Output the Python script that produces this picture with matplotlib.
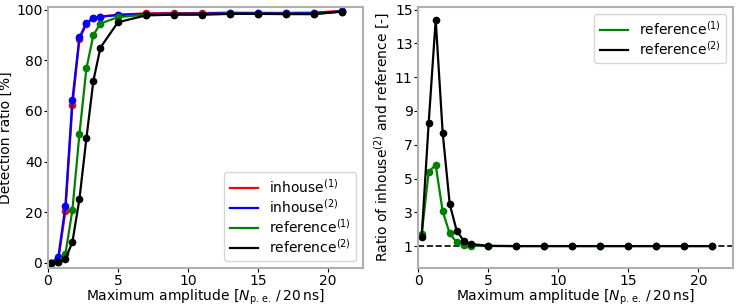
import matplotlib.pyplot as plt

# Amplitude bins [N_pe / 20 ns]
amplitude = [0.25, 0.75, 1.25, 1.75, 2.25, 2.75, 3.25, 3.75, 5, 7, 9, 11, 13, 15, 17, 19, 21]

# Detection ratio [%]
inhouse1 = [0.0, 1.5, 20.5, 62.2, 88.2, 94.5, 96.5, 97.2, 98.0, 98.5, 98.6, 98.6, 98.8, 98.7, 98.7, 98.8, 99.5]
inhouse2 = [0.0, 2.5, 22.5, 64.5, 89.0, 94.7, 96.7, 97.2, 97.8, 98.3, 98.4, 98.4, 98.6, 98.5, 98.5, 98.6, 99.3]
reference1 = [0.0, 0.5, 3.5, 21.0, 50.8, 76.8, 90.0, 94.5, 97.0, 98.0, 98.1, 98.1, 98.4, 98.3, 98.3, 98.3, 99.2]
reference2 = [0.0, 0.3, 1.5, 8.3, 25.2, 49.3, 72.0, 85.0, 95.0, 97.7, 98.0, 98.0, 98.3, 98.3, 98.2, 98.2, 99.2]

# Ratio inhouse(2) / reference [-]
ratio1 = [1.7, 5.4, 5.8, 3.05, 1.75, 1.22, 1.06, 1.02, 1.0, 1.0, 1.0, 1.0, 1.0, 1.0, 1.0, 1.0, 1.0]
ratio2 = [1.55, 8.3, 14.4, 7.7, 3.5, 1.9, 1.32, 1.12, 1.02, 1.0, 1.0, 1.0, 1.0, 1.0, 1.0, 1.0, 1.0]

xlabel = r"Maximum amplitude [$N_\mathrm{p.\,e.}\,/\,20\,\mathrm{ns}$]"
fontSize = 10
spineColor = "#b0b0b0"

fig, (ax1, ax2) = plt.subplots(1, 2, figsize=(7.37, 3.06), dpi=100)
fig.subplots_adjust(left=0.065, right=0.995, top=0.977, bottom=0.124, wspace=0.175)

series = [(inhouse1, "red", r"inhouse$^{(1)}$"),
          (inhouse2, "blue", r"inhouse$^{(2)}$"),
          (reference1, "green", r"reference$^{(1)}$"),
          (reference2, "black", r"reference$^{(2)}$")]
for values, color, label in series:
    ax1.plot(amplitude, values, color=color, lw=1.6, label=label)
    ax1.plot(amplitude, values, color=color, ls="none", marker="o", ms=4.5)

ax1.set_xlim(0, 22.5)
ax1.set_ylim(-2, 101)
ax1.set_yticks([0, 20, 40, 60, 80, 100])
ax1.set_ylabel("Detection ratio [%]", fontsize=fontSize, labelpad=2)
ax1.set_xlabel(xlabel, fontsize=fontSize, labelpad=0)
ax1.legend(loc="lower right", fontsize=fontSize, handlelength=2.0,
           labelspacing=0.15)

ax2.axhline(1, color="black", ls="--", lw=1.2, zorder=1)
ax2.plot(amplitude, ratio1, color="green", lw=1.6, label=r"reference$^{(1)}$")
ax2.plot(amplitude, ratio1, color="green", ls="none", marker="o", ms=4.5)
ax2.plot(amplitude, ratio2, color="black", lw=1.6, label=r"reference$^{(2)}$")
ax2.plot(amplitude, ratio2, color="black", ls="none", marker="o", ms=4.5)

ax2.set_xlim(0, 22.5)
ax2.set_ylim(-0.3, 15.15)
ax2.set_yticks([1, 3, 5, 7, 9, 11, 13, 15])
ax2.set_ylabel(r"Ratio of inhouse$^{(2)}$ and reference [-]", fontsize=fontSize, labelpad=2)
ax2.set_xlabel(xlabel, fontsize=fontSize, labelpad=0)
ax2.legend(loc="upper right", fontsize=fontSize, handlelength=2.0,
           labelspacing=0.15)

for ax in (ax1, ax2):
    ax.tick_params(axis="both", labelsize=fontSize, length=3, pad=1)
    for spine in ax.spines.values():
        spine.set_color(spineColor)
        spine.set_linewidth(1.5)

plt.savefig("out.png")
